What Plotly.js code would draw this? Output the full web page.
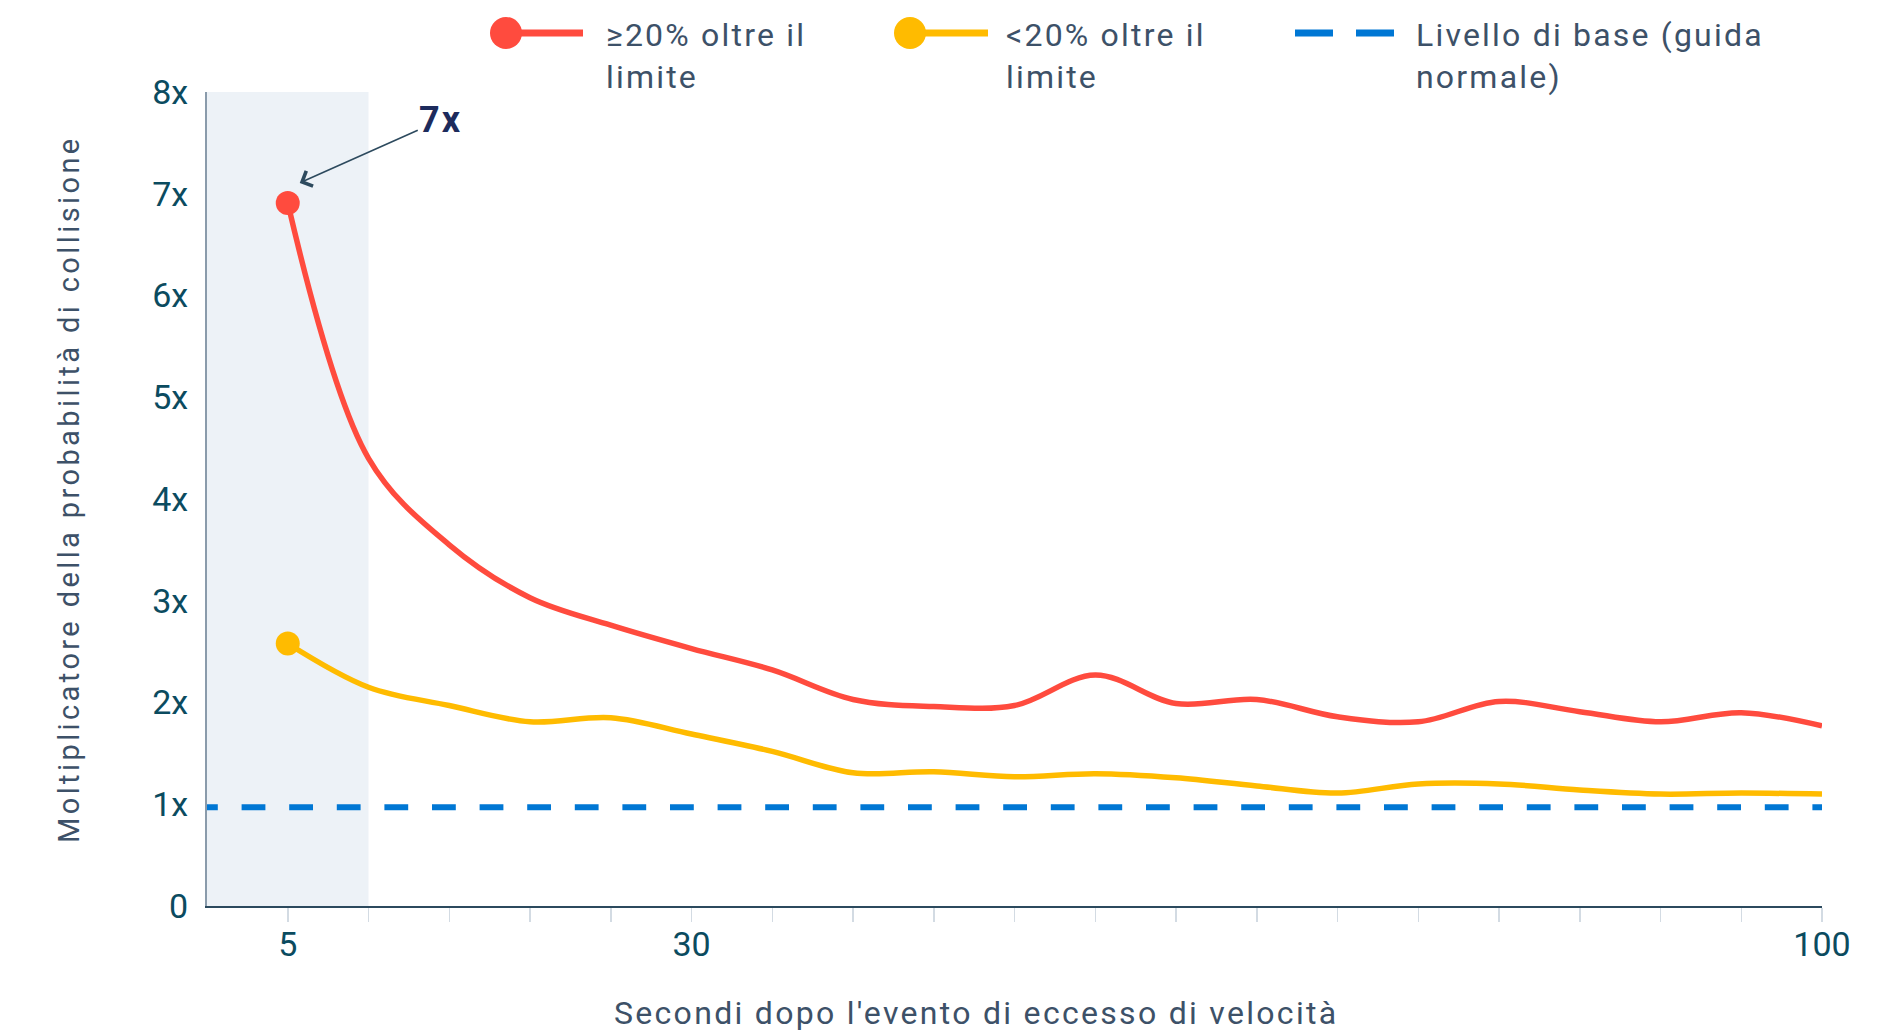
<!DOCTYPE html>
<html>
<head>
<meta charset="utf-8">
<script src="https://cdn.plot.ly/plotly-3.0.1.min.js"></script>
<style>
  html, body { margin: 0; padding: 0; background: #ffffff; }
  #chart { width: 1880px; height: 1034px; }
  text.annotation-text { letter-spacing: 2.2px; }
  .scatterlayer .trace:first-child path.js-line { stroke-dashoffset: 13px; }
</style>
</head>
<body>
<div id="chart"></div>
<script>
// ---------------- DATA ----------------
const seconds = [5, 10, 15, 20, 25, 30, 35, 40, 45, 50, 55, 60, 65, 70, 75, 80, 85, 90, 95, 100];
const over20 = [6.91, 4.40, 3.55, 3.03, 2.76, 2.53, 2.32, 2.03, 1.96, 1.97, 2.27, 1.99, 2.03, 1.86, 1.81, 2.01, 1.91, 1.81, 1.90, 1.77];
const under20 = [2.58, 2.15, 1.97, 1.81, 1.85, 1.69, 1.52, 1.31, 1.32, 1.27, 1.30, 1.26, 1.18, 1.11, 1.20, 1.20, 1.14, 1.10, 1.11, 1.10];
const baselineX = [0, 100];
const baselineY = [0.97, 0.97];
const seriesNames = ["≥20% oltre il<br>limite", "<20% oltre il<br>limite", "Livello di base (guida<br>normale)"];
const xTickLabels = { 5: "5", 30: "30", 100: "100" };
const yTickVals = [0, 1, 2, 3, 4, 5, 6, 7, 8];
const yTickText = ["0", "1x", "2x", "3x", "4x", "5x", "6x", "7x", "8x"];
const highlightRange = [0, 10];
const peakLabel = "7x";
const xTitle = "Secondi dopo l'evento di eccesso di velocità";
const yTitle = "Moltiplicatore della probabilità di collisione";

// ---------------- STYLE ----------------
const RED = "#FF4B3E", YELLOW = "#FFBB00", BLUE = "#0077D4";
const TICK = "#0B4B5F", TEXT = "#3D5168";
const FONT = "Roboto, 'Noto Sans', sans-serif";
const L = 207, R = 58, T = 92, B = 128, W = 1880, H = 1034;
const PW = W - L - R, PH = H - T - B;
const px = v => (v - L) / PW;
const py = v => (H - B - v) / PH;

const firstOnly = n => Array.from({length: n}, (_, i) => i === 0 ? 24 : 0);

const traces = [
  {
    x: baselineX, y: baselineY, name: seriesNames[2], mode: "lines",
    line: {color: BLUE, width: 6, dash: "23.8px,23.8px"}, hoverinfo: "skip"
  },
  {
    x: seconds, y: under20, name: seriesNames[1], mode: "lines+markers",
    line: {color: YELLOW, width: 5.5, shape: "spline", smoothing: 1},
    marker: {color: YELLOW, opacity: 1, size: firstOnly(seconds.length), line: {width: 0}}
  },
  {
    x: seconds, y: over20, name: seriesNames[0], mode: "lines+markers",
    line: {color: RED, width: 5.5, shape: "spline", smoothing: 1},
    marker: {color: RED, opacity: 1, size: firstOnly(seconds.length), line: {width: 0}}
  }
];

const xTickVals = seconds.slice();
const xTickText = xTickVals.map(v => xTickLabels[v] || "");

// custom legend (symbol = marker at left end of a line)
const legendY = py(33);
const shapes = [
  {type: "rect", xref: "x", yref: "paper", x0: highlightRange[0], x1: highlightRange[1], y0: 0, y1: 1,
   fillcolor: "#EDF2F7", line: {width: 0}, layer: "below"},
  // red legend
  {type: "line", xref: "paper", yref: "paper", x0: px(506), x1: px(583), y0: legendY, y1: legendY,
   line: {color: RED, width: 7}},
  {type: "circle", xref: "paper", yref: "paper", x0: px(490), x1: px(522), y0: py(17), y1: py(49),
   fillcolor: RED, line: {width: 0}},
  // yellow legend
  {type: "line", xref: "paper", yref: "paper", x0: px(910), x1: px(988), y0: legendY, y1: legendY,
   line: {color: YELLOW, width: 7}},
  {type: "circle", xref: "paper", yref: "paper", x0: px(894), x1: px(926), y0: py(17), y1: py(49),
   fillcolor: YELLOW, line: {width: 0}},
  // blue legend
  {type: "line", xref: "paper", yref: "paper", x0: px(1295), x1: px(1333), y0: legendY, y1: legendY,
   line: {color: BLUE, width: 7}},
  {type: "line", xref: "paper", yref: "paper", x0: px(1356), x1: px(1394), y0: legendY, y1: legendY,
   line: {color: BLUE, width: 7}}
];

const legendText = (txt, xpix) => ({
  xref: "paper", yref: "paper", x: px(xpix), y: py(14), xanchor: "left", yanchor: "top",
  text: txt, showarrow: false, align: "left",
  font: {family: FONT, size: 32, color: TEXT}
});

const annotations = [
  legendText(seriesNames[0], 604),
  legendText(seriesNames[1], 1004),
  legendText(seriesNames[2], 1414),
  {
    x: seconds[0], y: over20[0], xref: "x", yref: "y",
    xshift: 12, yshift: 20, ax: 141, ay: -63,
    text: "<b>" + peakLabel + "</b>", showarrow: true,
    arrowhead: 4, arrowsize: 2, arrowwidth: 1.6, arrowcolor: "#2D4A5E", standoff: 0,
    font: {family: FONT, size: 36, color: "#1D2B5C"}
  },
  // x-axis title
  {
    xref: "paper", yref: "paper", x: px(976), y: py(1013), xanchor: "center", yanchor: "middle",
    text: '<span style="letter-spacing:2.3px">' + xTitle + '</span>', showarrow: false,
    font: {family: FONT, size: 32, color: TEXT}
  },
  // y-axis title
  {
    xref: "paper", yref: "paper", x: px(69), y: py(489), xanchor: "center", yanchor: "middle",
    textangle: -90,
    text: '<span style="letter-spacing:3.4px">' + yTitle + '</span>', showarrow: false,
    font: {family: FONT, size: 29, color: TEXT}
  }
];

const layout = {
  width: W, height: H,
  margin: {l: L, r: R, t: T, b: B, pad: 0},
  paper_bgcolor: "#ffffff", plot_bgcolor: "rgba(0,0,0,0)",
  showlegend: false,
  font: {family: FONT, color: TEXT},
  xaxis: {
    range: [0, 100], showgrid: false, zeroline: false,
    showline: true, linecolor: "#2C4A5E", linewidth: 2,
    tickmode: "array", tickvals: xTickVals, ticktext: xTickText,
    ticks: "outside", ticklen: 14, tickwidth: 1.5, tickcolor: "#D3DBE3",
    tickfont: {family: FONT, size: 34, color: TICK},
    ticklabelstandoff: -7,
    automargin: false
  },
  yaxis: {
    range: [0, 8], showgrid: false, zeroline: false,
    showline: true, linecolor: "#8A9BAB", linewidth: 2,
    tickmode: "array", tickvals: yTickVals, ticktext: yTickText,
    ticks: "", tickfont: {family: FONT, size: 34, color: TICK},
    ticklabelstandoff: 10,
    automargin: false
  },
  shapes: shapes,
  annotations: annotations
};

Plotly.newPlot("chart", traces, layout, {displayModeBar: false, staticPlot: true});
</script>
</body>
</html>
